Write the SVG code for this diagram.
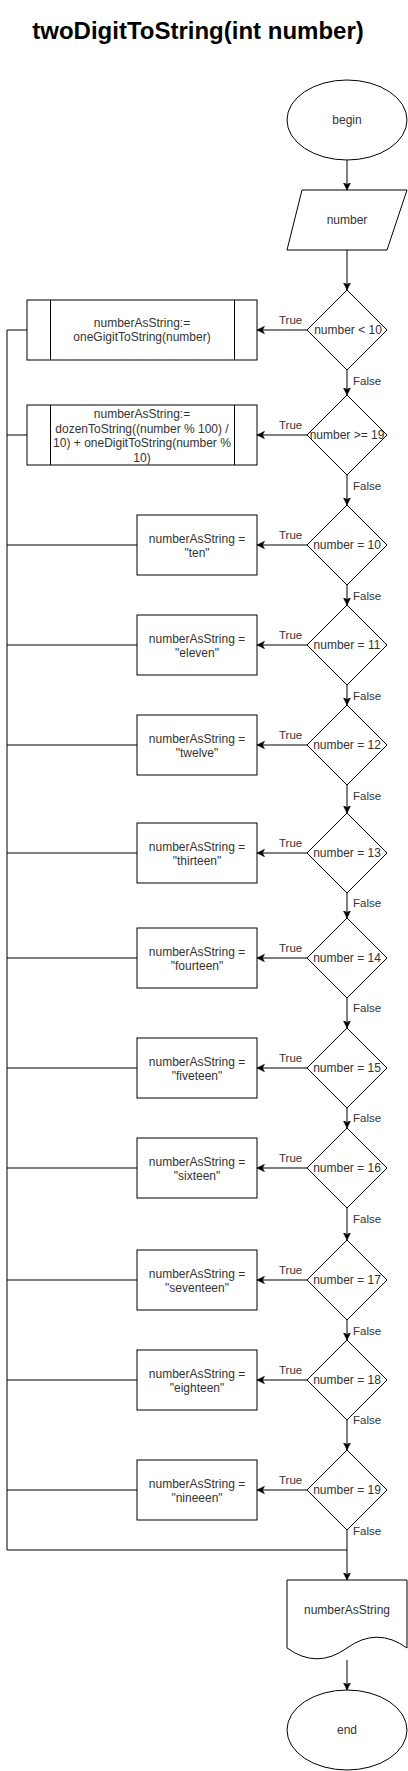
<svg xmlns="http://www.w3.org/2000/svg" width="408" height="1771" viewBox="0 0 408 1771">
<style>
.s{fill:#fff;stroke:#000;stroke-width:1}
.t{font-family:"Liberation Sans",Arial,sans-serif;font-size:12px;fill:#333;text-anchor:middle}
.l{font-family:"Liberation Sans",Arial,sans-serif;font-size:11.5px;fill:#333}
.c{fill:none;stroke:#000;stroke-width:1}
.a{fill:none;stroke:#000;stroke-width:1;marker-end:url(#arr)}
.title{font-family:"Liberation Sans",Arial,sans-serif;font-size:24px;font-weight:bold;fill:#000;text-anchor:middle}
</style>
<defs>
<marker id="arr" markerWidth="10" markerHeight="10" refX="7.5" refY="3.75" orient="auto" markerUnits="userSpaceOnUse">
<path d="M0,0 L7.5,3.75 L0,7.5 L2,3.75 z" fill="#000" stroke="#000" stroke-width="0.5"/>
</marker>
</defs>
<rect width="408" height="1771" fill="#fff"/>
<text class="title" x="198" y="39">twoDigitToString(int number)</text>

<g id="connectors">
<path class="a" d="M347,160 V190"/>
<path class="a" d="M347,250 V290"/>
<path class="a" d="M347,370 V395"/>
<path class="a" d="M347,475 V505"/>
<path class="a" d="M347,585 V605"/>
<path class="a" d="M347,685 V705"/>
<path class="a" d="M347,785 V813"/>
<path class="a" d="M347,893 V918"/>
<path class="a" d="M347,998 V1028"/>
<path class="a" d="M347,1108 V1128"/>
<path class="a" d="M347,1208 V1240"/>
<path class="a" d="M347,1320 V1340"/>
<path class="a" d="M347,1420 V1450"/>
<path class="a" d="M347,1530 V1580"/>
<path class="a" d="M347,1660 V1690"/>
<path class="a" d="M307,330 H257"/>
<path class="a" d="M307,435 H257"/>
<path class="a" d="M307,545 H257"/>
<path class="a" d="M307,645 H257"/>
<path class="a" d="M307,745 H257"/>
<path class="a" d="M307,853 H257"/>
<path class="a" d="M307,958 H257"/>
<path class="a" d="M307,1068 H257"/>
<path class="a" d="M307,1168 H257"/>
<path class="a" d="M307,1280 H257"/>
<path class="a" d="M307,1380 H257"/>
<path class="a" d="M307,1490 H257"/>
<path class="c" d="M27,330 H7 V1550 H347"/>
<path class="c" d="M27,435 H7"/>
<path class="c" d="M137,545 H7"/>
<path class="c" d="M137,645 H7"/>
<path class="c" d="M137,745 H7"/>
<path class="c" d="M137,853 H7"/>
<path class="c" d="M137,958 H7"/>
<path class="c" d="M137,1068 H7"/>
<path class="c" d="M137,1168 H7"/>
<path class="c" d="M137,1280 H7"/>
<path class="c" d="M137,1380 H7"/>
<path class="c" d="M137,1490 H7"/>
<g class="l">
<text x="279" y="324">True</text>
<text x="279" y="429">True</text>
<text x="279" y="539">True</text>
<text x="279" y="639">True</text>
<text x="279" y="739">True</text>
<text x="279" y="847">True</text>
<text x="279" y="952">True</text>
<text x="279" y="1062">True</text>
<text x="279" y="1162">True</text>
<text x="279" y="1274">True</text>
<text x="279" y="1374">True</text>
<text x="279" y="1484">True</text>
<text x="353" y="385">False</text>
<text x="353" y="490">False</text>
<text x="353" y="600">False</text>
<text x="353" y="700">False</text>
<text x="353" y="800">False</text>
<text x="353" y="907">False</text>
<text x="353" y="1012">False</text>
<text x="353" y="1122">False</text>
<text x="353" y="1223">False</text>
<text x="353" y="1335">False</text>
<text x="353" y="1424">False</text>
<text x="353" y="1535">False</text>
</g>
</g>

<g id="begin"><ellipse class="s" cx="347" cy="120" rx="60" ry="40"/><text class="t" x="347" y="124">begin</text></g>
<g id="input"><path class="s" d="M302,190 H407 L387,250 H287 Z"/><text class="t" x="347" y="224">number</text></g>

<g id="d1"><path class="s" d="M347,290 L387,330 L347,370 L307,330 Z"/><text class="t" x="348" y="334">number &lt; 10</text></g>
<g id="d2"><path class="s" d="M347,395 L387,435 L347,475 L307,435 Z"/><text class="t" x="347" y="439">number &gt;= 19</text></g>
<g id="d3"><path class="s" d="M347,505 L387,545 L347,585 L307,545 Z"/><text class="t" x="347" y="549">number = 10</text></g>
<g id="d4"><path class="s" d="M347,605 L387,645 L347,685 L307,645 Z"/><text class="t" x="347" y="649">number = 11</text></g>
<g id="d5"><path class="s" d="M347,705 L387,745 L347,785 L307,745 Z"/><text class="t" x="347" y="749">number = 12</text></g>
<g id="d6"><path class="s" d="M347,813 L387,853 L347,893 L307,853 Z"/><text class="t" x="347" y="857">number = 13</text></g>
<g id="d7"><path class="s" d="M347,918 L387,958 L347,998 L307,958 Z"/><text class="t" x="347" y="962">number = 14</text></g>
<g id="d8"><path class="s" d="M347,1028 L387,1068 L347,1108 L307,1068 Z"/><text class="t" x="347" y="1072">number = 15</text></g>
<g id="d9"><path class="s" d="M347,1128 L387,1168 L347,1208 L307,1168 Z"/><text class="t" x="347" y="1172">number = 16</text></g>
<g id="d10"><path class="s" d="M347,1240 L387,1280 L347,1320 L307,1280 Z"/><text class="t" x="347" y="1284">number = 17</text></g>
<g id="d11"><path class="s" d="M347,1340 L387,1380 L347,1420 L307,1380 Z"/><text class="t" x="347" y="1384">number = 18</text></g>
<g id="d12"><path class="s" d="M347,1450 L387,1490 L347,1530 L307,1490 Z"/><text class="t" x="347" y="1494">number = 19</text></g>

<g id="p1"><rect class="s" x="27" y="300" width="230" height="60"/><path class="c" d="M50.5,300 V360 M234.5,300 V360"/>
<text class="t" x="142" y="327">numberAsString:=</text><text class="t" x="142" y="341">oneGigitToString(number)</text></g>
<g id="p2"><rect class="s" x="27" y="405" width="230" height="60"/><path class="c" d="M50.5,405 V465 M234.5,405 V465"/>
<text class="t" x="142" y="418">numberAsString:=</text><text class="t" x="142" y="432.5">dozenToString((number % 100) /</text><text class="t" x="142" y="447">10) + oneDigitToString(number %</text><text class="t" x="142" y="461.5">10)</text></g>

<g id="r10"><rect class="s" x="137" y="515" width="120" height="60"/><text class="t" x="197" y="543">numberAsString =</text><text class="t" x="197" y="557">"ten"</text></g>
<g id="r11"><rect class="s" x="137" y="615" width="120" height="60"/><text class="t" x="197" y="643">numberAsString =</text><text class="t" x="197" y="657">"eleven"</text></g>
<g id="r12"><rect class="s" x="137" y="715" width="120" height="60"/><text class="t" x="197" y="743">numberAsString =</text><text class="t" x="197" y="757">"twelve"</text></g>
<g id="r13"><rect class="s" x="137" y="823" width="120" height="60"/><text class="t" x="197" y="851">numberAsString =</text><text class="t" x="197" y="865">"thirteen"</text></g>
<g id="r14"><rect class="s" x="137" y="928" width="120" height="60"/><text class="t" x="197" y="956">numberAsString =</text><text class="t" x="197" y="970">"fourteen"</text></g>
<g id="r15"><rect class="s" x="137" y="1038" width="120" height="60"/><text class="t" x="197" y="1066">numberAsString =</text><text class="t" x="197" y="1080">"fiveteen"</text></g>
<g id="r16"><rect class="s" x="137" y="1138" width="120" height="60"/><text class="t" x="197" y="1166">numberAsString =</text><text class="t" x="197" y="1180">"sixteen"</text></g>
<g id="r17"><rect class="s" x="137" y="1250" width="120" height="60"/><text class="t" x="197" y="1278">numberAsString =</text><text class="t" x="197" y="1292">"seventeen"</text></g>
<g id="r18"><rect class="s" x="137" y="1350" width="120" height="60"/><text class="t" x="197" y="1378">numberAsString =</text><text class="t" x="197" y="1392">"eighteen"</text></g>
<g id="r19"><rect class="s" x="137" y="1460" width="120" height="60"/><text class="t" x="197" y="1488">numberAsString =</text><text class="t" x="197" y="1502">"nineeen"</text></g>

<g id="output"><path class="s" d="M287,1580 H407 V1648 Q377,1626.4 347,1648 Q317,1669.6 287,1648 Z"/><text class="t" x="347" y="1614">numberAsString</text></g>
<g id="end"><ellipse class="s" cx="347" cy="1730" rx="60" ry="40"/><text class="t" x="347" y="1734">end</text></g>
</svg>
